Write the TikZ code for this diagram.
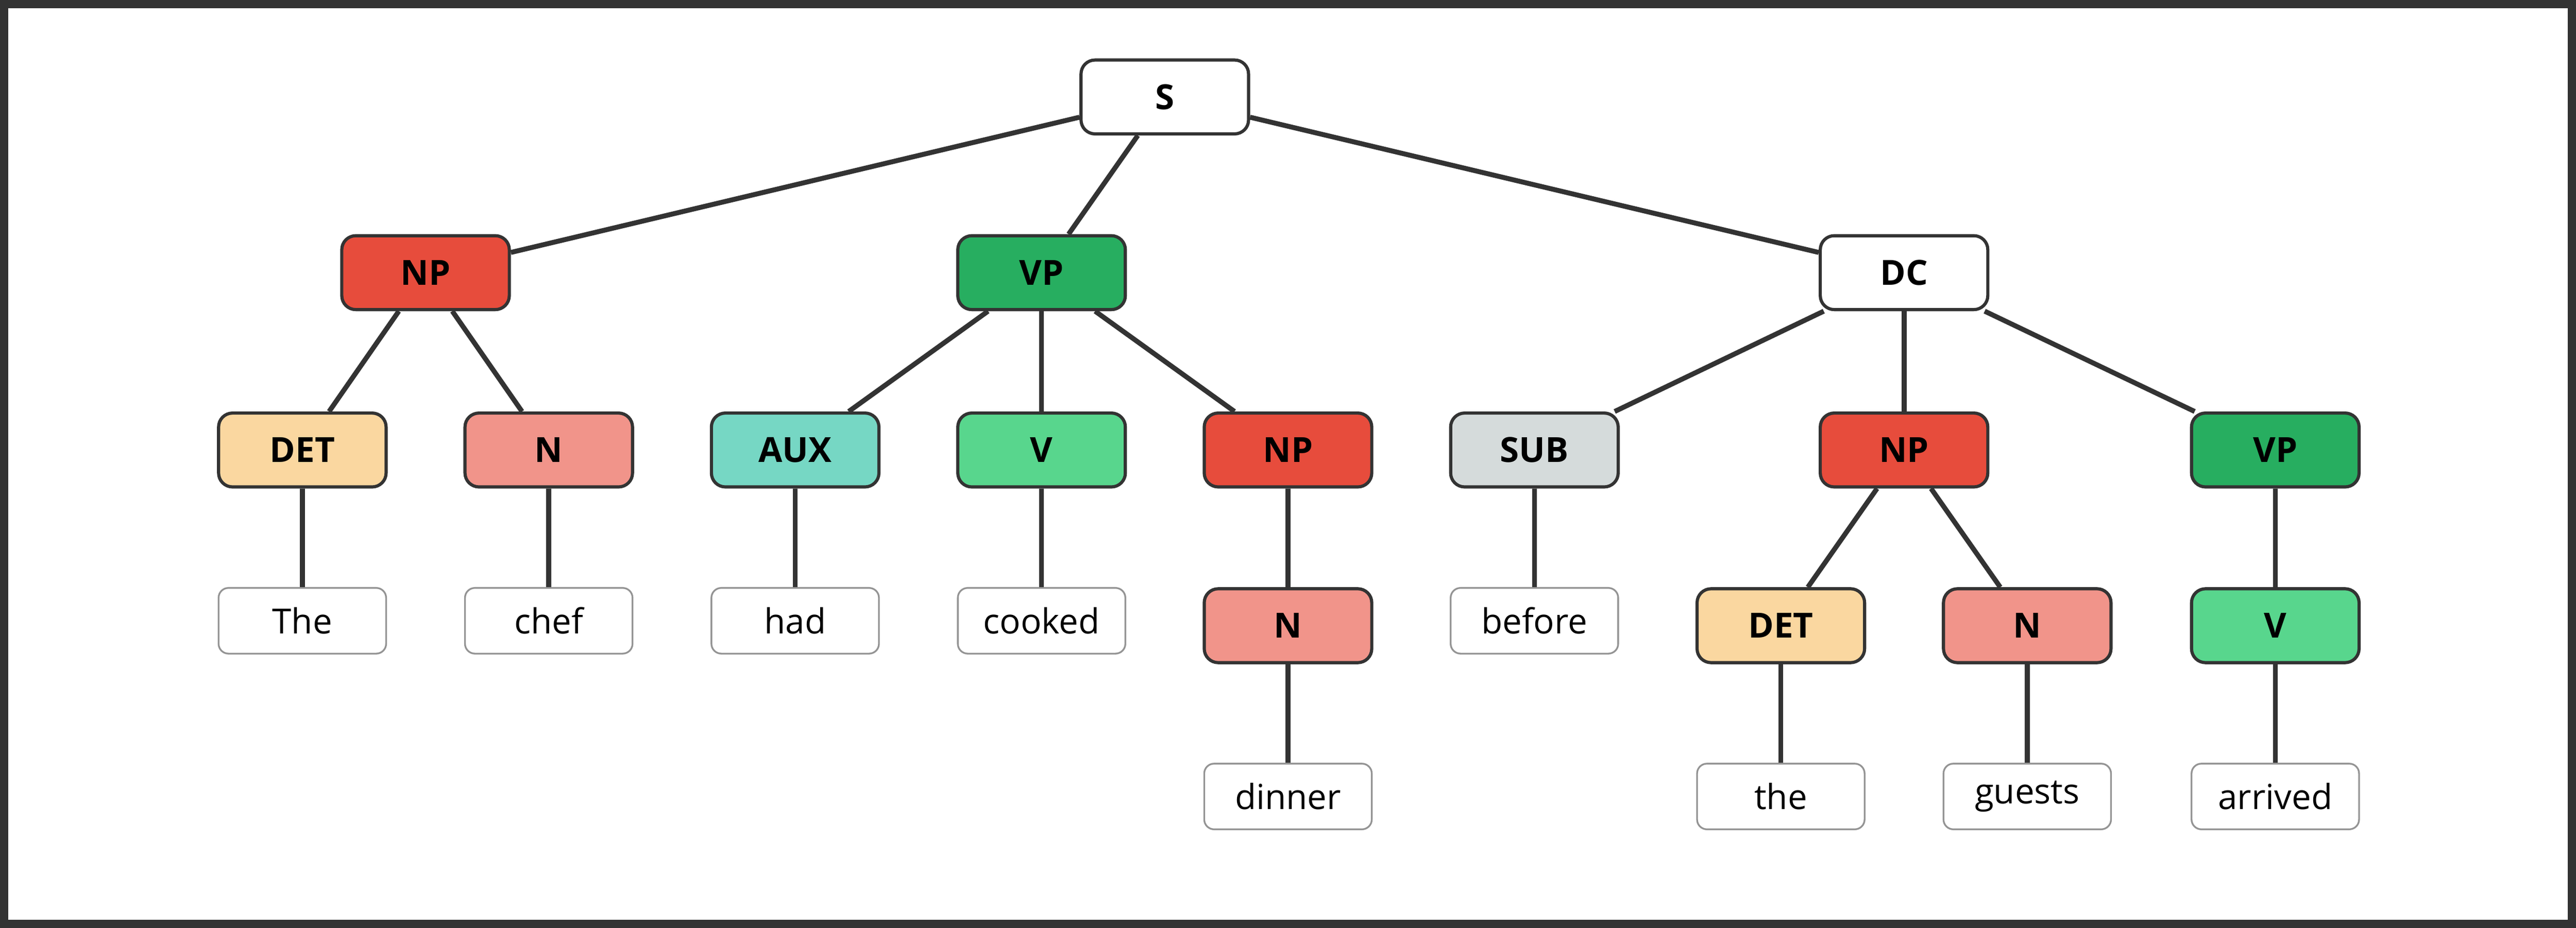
\documentclass[tikz,border=0pt]{standalone}
\usepackage{fontspec}
\setmainfont{Open Sans}
\begin{document}
\begin{tikzpicture}[x=0.02cm,y=-0.02cm,
 cat/.style={draw=black!80,line width=1.1pt,rounded corners=0.17cm,minimum width=2.04cm,minimum height=0.9cm,font=\fontsize{12}{14}\selectfont\bfseries,inner sep=0pt},
 word/.style={draw=black!42,line width=0.6pt,rounded corners=0.12cm,minimum width=2.04cm,minimum height=0.8cm,font=\fontsize{12}{14}\selectfont,inner sep=0pt,fill=white},
 e/.style={draw=black!80,line width=1.7pt}]
\fill[white] (0,0) rectangle (1568,565);
\draw[black!80,line width=2.9pt] (2.5,2.5) rectangle (1565.5,562.5);
\definecolor{cNP}{HTML}{E74C3C}\definecolor{cN}{HTML}{F1948A}\definecolor{cDET}{HTML}{FAD7A0}
\definecolor{cAUX}{HTML}{76D7C4}\definecolor{cV}{HTML}{58D68D}\definecolor{cVP}{HTML}{27AE60}\definecolor{cSUB}{HTML}{D5DBDB}
\node[cat,fill=white] (S) at (709,59) {S};
\node[cat,fill=cNP] (NP1) at (259,166) {NP};
\node[cat,fill=cVP] (VP1) at (634,166) {VP};
\node[cat,fill=white] (DC) at (1159,166) {DC};
\node[cat,fill=cDET] (DET1) at (184,274) {DET};
\node[cat,fill=cN] (N1) at (334,274) {N};
\node[cat,fill=cAUX] (AUX) at (484,274) {AUX};
\node[cat,fill=cV] (V1) at (634,274) {V};
\node[cat,fill=cNP] (NP2) at (784,274) {NP};
\node[cat,fill=cSUB] (SUB) at (934,274) {SUB};
\node[cat,fill=cNP] (NP3) at (1159,274) {NP};
\node[cat,fill=cVP] (VP2) at (1385,274) {VP};
\node[word] (w1) at (184,378) {The};
\node[word] (w2) at (334,378) {chef};
\node[word] (w3) at (484,378) {had};
\node[word] (w4) at (634,378) {cooked};
\node[cat,fill=cN] (N2) at (784,381) {N};
\node[word] (w6) at (934,378) {before};
\node[cat,fill=cDET] (DET2) at (1084,381) {DET};
\node[cat,fill=cN] (N3) at (1234,381) {N};
\node[cat,fill=cV] (V2) at (1385,381) {V};
\node[word] (w5) at (784,485) {dinner};
\node[word] (w7) at (1084,485) {the};
\node[word] (w8) at (1234,485) {guests};
\node[word] (w9) at (1385,485) {arrived};
\begin{scope}[on background layer/.try]
\end{scope}
\foreach \a/\b in {S/NP1,S/VP1,S/DC,NP1/DET1,NP1/N1,VP1/AUX,VP1/V1,VP1/NP2,DC/SUB,DC/NP3,DC/VP2,DET1/w1,N1/w2,AUX/w3,V1/w4,NP2/N2,N2/w5,SUB/w6,NP3/DET2,NP3/N3,VP2/V2,DET2/w7,N3/w8,V2/w9}
  \draw[e] (\a) -- (\b);
\end{tikzpicture}
\end{document}
